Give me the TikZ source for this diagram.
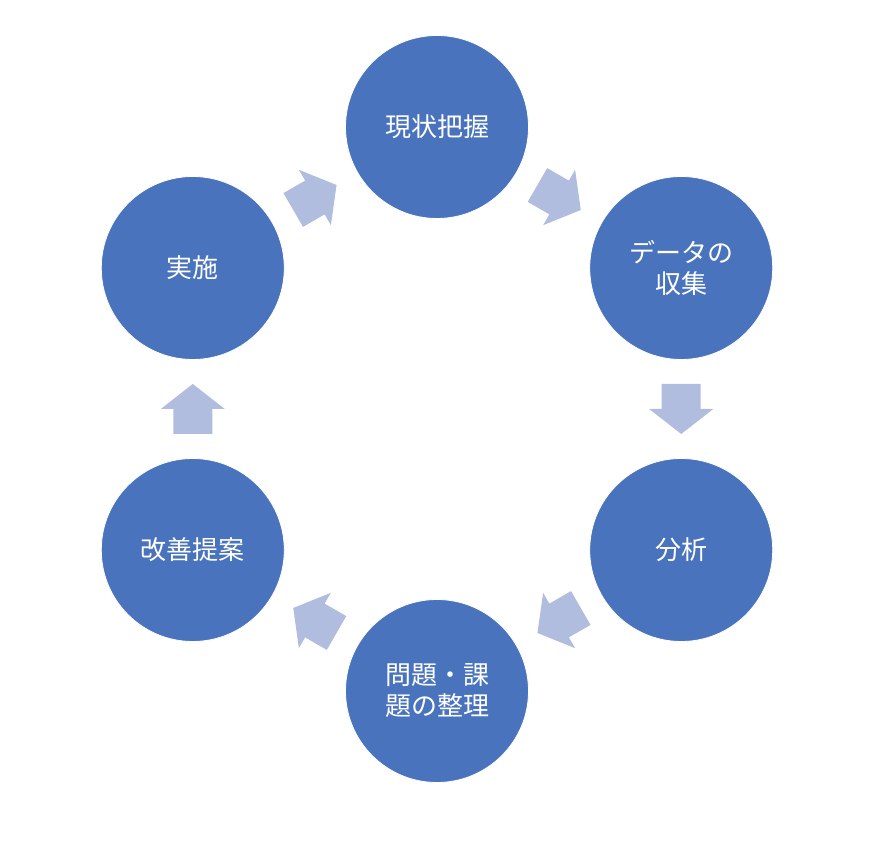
\documentclass[tikz,border=0pt]{standalone}
\usepackage{fontspec}
\newfontfamily\cjk{Noto Sans CJK JP}
\usetikzlibrary{calc}
\definecolor{circfill}{HTML}{4A73BD}
\definecolor{arrfill}{HTML}{B0BDDE}
\tikzset{
  x=1pt, y=1pt,
  stage/.style={circle, fill=circfill, draw=white, line width=0.8pt, minimum size=183pt, inner sep=0pt,
    text=white, font=\cjk\fontsize{26}{31}\selectfont, align=center},
  pics/blockarrow/.style={code={
    \fill[arrfill] (-25,-19.5) -- (0,-19.5) -- (0,-32) -- (25,0) -- (0,32) -- (0,19.5) -- (-25,19.5) -- cycle;
  }}
}
\begin{document}
\begin{tikzpicture}
\useasboundingbox (0,0) rectangle (880,840);
\coordinate (O) at (437,431);
\node[stage] (s1) at ($(O)+(90:282)$) {現状把握};
\node[stage] (s2) at ($(O)+(30:282)$) {データの\\収集};
\node[stage] (s3) at ($(O)+(-30:282)$) {分析};
\node[stage] (s4) at ($(O)+(-90:282)$) {問題・課\\題の整理};
\node[stage] (s5) at ($(O)+(-150:282)$) {改善提案};
\node[stage] (s6) at ($(O)+(150:282)$) {実施};
\coordinate (a12) at ($(s1.center)!0.5!(s2.center)$);
\coordinate (a23) at ($(s2.center)!0.5!(s3.center)$);
\coordinate (a34) at ($(s3.center)!0.5!(s4.center)$);
\coordinate (a45) at ($(s4.center)!0.5!(s5.center)$);
\coordinate (a56) at ($(s5.center)!0.5!(s6.center)$);
\coordinate (a61) at ($(s6.center)!0.5!(s1.center)$);
\pic[rotate=-30] at (a12) {blockarrow};
\pic[rotate=-90] at (a23) {blockarrow};
\pic[rotate=-150] at (a34) {blockarrow};
\pic[rotate=150] at (a45) {blockarrow};
\pic[rotate=90] at (a56) {blockarrow};
\pic[rotate=30] at (a61) {blockarrow};
\end{tikzpicture}
\end{document}
